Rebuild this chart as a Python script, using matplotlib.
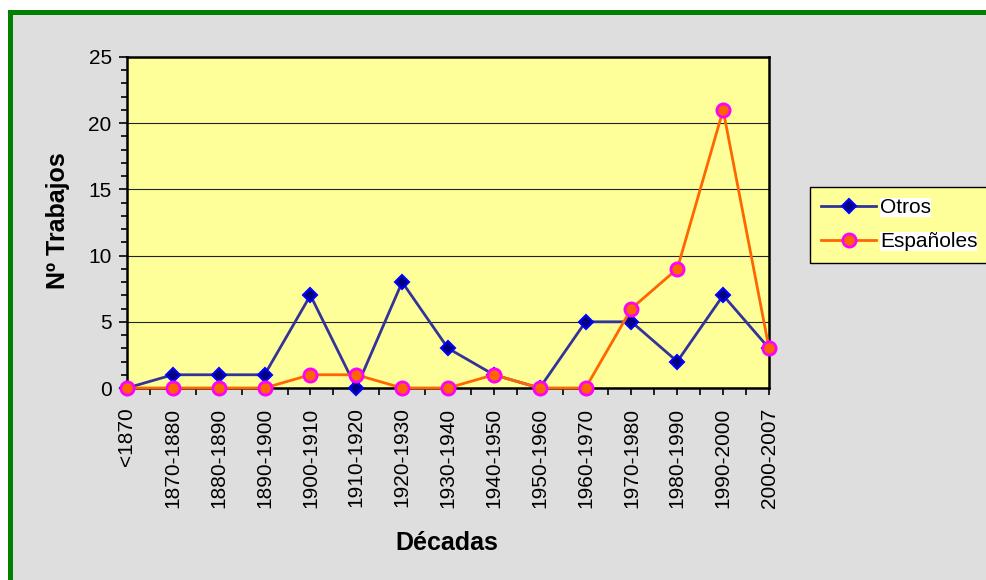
import matplotlib
matplotlib.use("Agg")
import matplotlib.pyplot as plt
from matplotlib.patches import Rectangle
from matplotlib.ticker import MultipleLocator

plt.rcParams['font.family'] = ['Liberation Sans', 'DejaVu Sans']

decades = ["<1870", "1870-1880", "1880-1890", "1890-1900", "1900-1910",
           "1910-1920", "1920-1930", "1930-1940", "1940-1950", "1950-1960",
           "1960-1970", "1970-1980", "1980-1990", "1990-2000", "2000-2007"]
otros = [0, 1, 1, 1, 7, 0, 8, 3, 1, 0, 5, 5, 2, 7, 3]
espanoles = [0, 0, 0, 0, 1, 1, 0, 0, 1, 0, 0, 6, 9, 21, 3]

W, H = 987, 580
fig = plt.figure(figsize=(W / 100, H / 100), dpi=100, facecolor="white")

def px(x, y):
    return x / W, 1 - y / H

# green frame and gray background
fig.patches.append(Rectangle(px(8, 600), (1000 - 8) / W, (600 - 10) / H,
                             transform=fig.transFigure, facecolor="#008000",
                             edgecolor="none", zorder=-10))
fig.patches.append(Rectangle(px(13, 600), (1000 - 13) / W, (600 - 15) / H,
                             transform=fig.transFigure, facecolor="#dedede",
                             edgecolor="none", zorder=-9))

left, right, top, bottom = 127, 769, 57, 388
ax = fig.add_axes([left / W, 1 - bottom / H, (right - left) / W, (bottom - top) / H])
ax.set_zorder(1)
ax.set_facecolor("#ffff99")

x = list(range(len(decades)))
ax.plot(x, otros, color="#333399", lw=2, marker="D", ms=7,
        markerfacecolor="#000080", markeredgecolor="#0000ff", mew=1.5,
        label="Otros", zorder=3, clip_on=False)
ax.plot(x, espanoles, color="#ff6600", lw=2, marker="o", ms=9.5,
        markerfacecolor="#ff6600", markeredgecolor="#ff00ff", mew=2,
        label="Españoles", zorder=4, clip_on=False)

ax.set_xlim(0, len(decades) - 1)
ax.set_ylim(0, 25)
ax.set_xticks(x)
ax.set_xticklabels(decades, rotation=90, fontsize=15)
ax.xaxis.set_minor_locator(MultipleLocator(0.5))
ax.yaxis.set_major_locator(MultipleLocator(5))
ax.yaxis.set_minor_locator(MultipleLocator(1))
ax.tick_params(axis="y", which="major", length=6, width=1.2, labelsize=15, pad=5)
ax.tick_params(axis="y", which="minor", length=4, width=1.2)
ax.tick_params(axis="x", which="major", length=5, width=1.2, pad=9)
ax.tick_params(axis="x", which="minor", length=5, width=1.2)
ax.grid(axis="y", which="major", color="#222222", lw=0.8)
ax.set_axisbelow(True)
for s in ax.spines.values():
    s.set_color("black")
    s.set_linewidth(1.8)

fig.text(*px(58, 221), "Nº Trabajos", rotation=90, ha="center", va="center",
         fontsize=18, fontweight="bold")
fig.text(*px(447, 550), "Décadas", ha="center", va="baseline",
         fontsize=18, fontweight="bold")

leg = ax.legend(loc="upper left", bbox_to_anchor=px(810, 187),
                bbox_transform=fig.transFigure, fontsize=15, frameon=True,
                fancybox=False, edgecolor="black", facecolor="#ffff99",
                framealpha=1, handlelength=2.6, handletextpad=0.2,
                borderpad=0.55, labelspacing=0.7, borderaxespad=0)
leg.get_frame().set_linewidth(1)
for t in leg.get_texts():
    t.set_bbox(dict(facecolor="white", edgecolor="none", pad=0))

fig.savefig("out.png", dpi=100, facecolor=fig.get_facecolor())
